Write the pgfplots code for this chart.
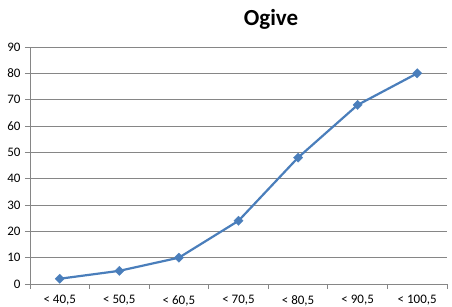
\documentclass[border=0pt]{standalone}
\usepackage{pgfplots}
\pgfplotsset{compat=1.18}
\usepackage{fontspec}
\setmainfont{Carlito}
\definecolor{ln}{HTML}{4A7EBB}
\definecolor{gr}{HTML}{868686}
\begin{document}
\begin{tikzpicture}[x=1pt,y=1pt]
\useasboundingbox (-30,-23) rectangle (422,284);
\begin{axis}[
  at={(0,0)}, anchor=south west,
  scale only axis, width=417pt, height=237pt,
  xmin=0, xmax=7, ymin=0, ymax=90,
  axis lines=left, axis line style={gr, -, line width=0.8pt},
  xtick={0.5,1.5,...,6.5},
  xticklabels={{< 40,5},{< 50,5},{< 60,5},{< 70,5},{< 80,5},{< 90,5},{< 100,5}},
  major x tick style={draw=none},
  minor xtick={0,1,...,7},
  minor x tick style={gr, line width=0.8pt},
  ytick={0,10,...,90},
  ymajorgrids, grid style={gr, line width=0.8pt},
  major y tick style={gr, line width=0.8pt},
  tick align=outside,
  major tick length=5pt, minor tick length=5pt,
  tick label style={font=\fontsize{13}{15}\selectfont, text=black},
  /pgf/number format/assume math mode=true,
  yticklabel style={xshift=-1pt},
  xticklabel style={yshift=-3pt},
  clip=false,
]
\addplot[ln, line width=2.2pt, mark=square*, mark size=3.3pt, mark options={fill=ln, draw=ln, line width=0.3pt, rotate=45}]
  coordinates {(0.5,2) (1.5,5) (2.5,10) (3.5,24) (4.5,48) (5.5,68) (6.5,80)};
\end{axis}
\node[font=\fontsize{23}{26}\selectfont\bfseries] at (241,265) {Ogive};
\end{tikzpicture}
\end{document}
